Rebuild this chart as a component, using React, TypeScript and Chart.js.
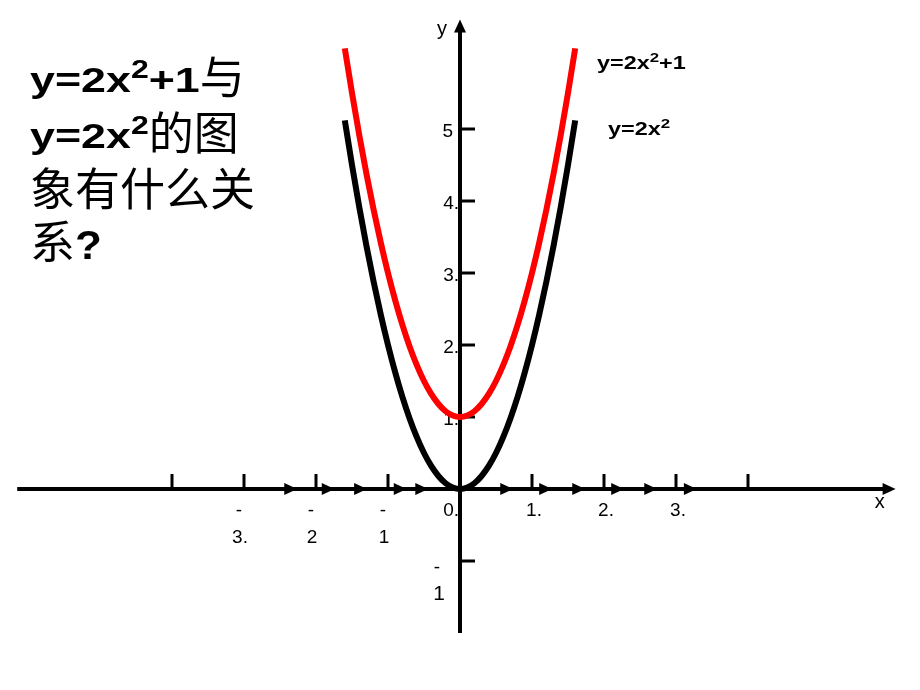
import React, { useEffect, useRef } from "react";
import Chart from "chart.js/auto";

// Curve samples (x in axis units)
const xValues = [-1.6, -1.5, -1.4, -1.3, -1.2, -1.1, -1.0, -0.9, -0.8, -0.7, -0.6, -0.5, -0.4, -0.3, -0.2, -0.1, 0, 0.1, 0.2, 0.3, 0.4, 0.5, 0.6, 0.7, 0.8, 0.9, 1.0, 1.1, 1.2, 1.3, 1.4, 1.5, 1.6];
const blackValues = [5.12, 4.5, 3.92, 3.38, 2.88, 2.42, 2.0, 1.62, 1.28, 0.98, 0.72, 0.5, 0.32, 0.18, 0.08, 0.02, 0, 0.02, 0.08, 0.18, 0.32, 0.5, 0.72, 0.98, 1.28, 1.62, 2.0, 2.42, 2.88, 3.38, 3.92, 4.5, 5.12];
const redValues = [6.12, 5.5, 4.92, 4.38, 3.88, 3.42, 3.0, 2.62, 2.28, 1.98, 1.72, 1.5, 1.32, 1.18, 1.08, 1.02, 1, 1.02, 1.08, 1.18, 1.32, 1.5, 1.72, 1.98, 2.28, 2.62, 3.0, 3.42, 3.88, 4.38, 4.92, 5.5, 6.12];

// Axis ticks and labels
const xTicks = [-4, -3, -2, -1, 1, 2, 3, 4];
const negLabelValues = [-3, -2, -1];
const negLabelTexts = ["3.", "2", "1"];
const posLabelValues = [0, 1, 2, 3];
const posLabelTexts = ["0.", "1.", "2.", "3."];
const yTicks = [-1, 1, 2, 3, 4, 5];
const yLabelValues = [1, 2, 3, 4, 5];
const yLabelTexts = ["1.", "2.", "3.", "4.", "5"];
const arrowMarks = [-2.26, -1.74, -1.29, -0.74, -0.44, 0.74, 1.28, 1.74, 2.28, 2.74, 3.29];

const seriesNames = ["y=2x²+1", "y=2x²"];
const titleLines = ["y=2x²+1与", "y=2x²的图", "象有什么关", "系？"];

const LATIN = "'Liberation Sans', Arial, sans-serif";
const CJK = "'Noto Sans CJK SC', sans-serif";

type Seg = { t: string; font: string; sx: number; dy: number };

function drawRun(ctx: CanvasRenderingContext2D, x: number, y: number, segs: Seg[]) {
  let cx = x;
  for (const s of segs) {
    ctx.save();
    ctx.font = s.font;
    ctx.textAlign = "left";
    ctx.textBaseline = "alphabetic";
    ctx.translate(cx, y + s.dy);
    ctx.scale(s.sx, 1);
    ctx.fillText(s.t, 0, 0);
    const w = ctx.measureText(s.t).width * s.sx;
    ctx.restore();
    cx += w;
  }
}

const axesPlugin = {
  id: "handAxes",
  beforeDatasetsDraw(chart: any) {
    const ctx: CanvasRenderingContext2D = chart.ctx;
    const xs = chart.scales.x;
    const ys = chart.scales.y;
    const px = (v: number) => xs.getPixelForValue(v);
    const py = (v: number) => ys.getPixelForValue(v);
    const x0 = px(0);
    const y0 = py(0);
    ctx.save();
    ctx.fillStyle = "#000";
    ctx.strokeStyle = "#000";

    // x axis
    const xStart = px(-6.15);
    const xTip = px(6.05);
    ctx.lineWidth = 4;
    ctx.beginPath();
    ctx.moveTo(xStart, y0);
    ctx.lineTo(xTip - 10, y0);
    ctx.stroke();
    ctx.beginPath();
    ctx.moveTo(xTip, y0);
    ctx.lineTo(xTip - 13, y0 - 6);
    ctx.lineTo(xTip - 13, y0 + 6);
    ctx.closePath();
    ctx.fill();

    // y axis
    const yBottom = py(-2);
    const yTip = py(6.52);
    ctx.beginPath();
    ctx.moveTo(x0, yBottom);
    ctx.lineTo(x0, yTip + 10);
    ctx.stroke();
    ctx.beginPath();
    ctx.moveTo(x0, yTip);
    ctx.lineTo(x0 - 6, yTip + 13);
    ctx.lineTo(x0 + 6, yTip + 13);
    ctx.closePath();
    ctx.fill();

    // small arrows along x axis
    for (const v of arrowMarks) {
      const t = px(v);
      ctx.beginPath();
      ctx.moveTo(t, y0);
      ctx.lineTo(t - 13, y0 - 6);
      ctx.lineTo(t - 13, y0 + 6);
      ctx.closePath();
      ctx.fill();
    }

    // ticks
    ctx.lineWidth = 3;
    for (const v of xTicks) {
      const t = px(v);
      ctx.beginPath();
      ctx.moveTo(t, y0);
      ctx.lineTo(t, y0 - 15);
      ctx.stroke();
    }
    for (const v of yTicks) {
      const t = py(v);
      ctx.beginPath();
      ctx.moveTo(x0, t);
      ctx.lineTo(x0 + 15, t);
      ctx.stroke();
    }

    // tick labels
    ctx.font = `19px ${LATIN}`;
    ctx.textBaseline = "alphabetic";
    negLabelValues.forEach((v, i) => {
      const t = px(v) - 4;
      ctx.textAlign = "center";
      ctx.fillText("-", t - 1, y0 + 27);
      ctx.fillText(negLabelTexts[i], t, y0 + 54);
    });
    posLabelValues.forEach((v, i) => {
      const t = px(v);
      if (v === 0) {
        ctx.textAlign = "right";
        ctx.fillText(posLabelTexts[i], t - 1, y0 + 27);
      } else {
        ctx.textAlign = "center";
        ctx.fillText(posLabelTexts[i], t + 2, y0 + 27);
      }
    });
    yLabelValues.forEach((v, i) => {
      const t = py(v);
      ctx.textAlign = "right";
      const txt = yLabelTexts[i];
      ctx.fillText(txt, txt.endsWith(".") ? x0 - 1 : x0 - 7, t + 8);
    });
    // -1 on y axis
    ctx.textAlign = "center";
    ctx.fillText("-", x0 - 23, py(-1) + 12);
    ctx.font = `21px ${LATIN}`;
    ctx.fillText("1", x0 - 21, py(-1) + 39);

    // axis names
    ctx.font = `20px ${LATIN}`;
    ctx.fillText("y", x0 - 18, yTip + 15);
    ctx.fillText("x", px(5.83), y0 + 19);
    ctx.restore();
  },
  afterDraw(chart: any) {
    const ctx: CanvasRenderingContext2D = chart.ctx;
    ctx.save();
    ctx.fillStyle = "#000";
    const B = (n: number) => `bold ${n}px ${LATIN}`;
    const C = `45px ${CJK}`;
    const sx = 1.28;
    // title
    drawRun(ctx, 30, 92, [
      { t: "y=2x", font: B(35), sx, dy: 0 },
      { t: "2", font: B(25), sx, dy: -14 },
      { t: "+1", font: B(35), sx, dy: 0 },
      { t: titleLines[0].slice(-1), font: C, sx: 1, dy: 2 },
    ]);
    drawRun(ctx, 30, 148, [
      { t: "y=2x", font: B(35), sx, dy: 0 },
      { t: "2", font: B(25), sx, dy: -14 },
      { t: titleLines[1].slice(-2), font: C, sx: 1, dy: 2 },
    ]);
    drawRun(ctx, 30, 206, [{ t: titleLines[2], font: C, sx: 1, dy: 0 }]);
    drawRun(ctx, 30, 259, [
      { t: titleLines[3].slice(0, 1), font: C, sx: 1, dy: 0 },
      { t: "?", font: B(40), sx: 1.1, dy: 0 },
    ]);

    // series labels
    const ls = 1.3;
    drawRun(ctx, 597, 69, [
      { t: "y=2x", font: B(18), sx: ls, dy: 0 },
      { t: "2", font: B(13), sx: ls, dy: -7 },
      { t: "+1", font: B(18), sx: ls, dy: 0 },
    ]);
    drawRun(ctx, 608, 135, [
      { t: "y=2x", font: B(18), sx: ls, dy: 0 },
      { t: "2", font: B(13), sx: ls, dy: -7 },
    ]);
    ctx.restore();
  },
};

export default function App() {
  const ref = useRef<HTMLCanvasElement | null>(null);
  useEffect(() => {
    if (!ref.current) return;
    const chart = new Chart(ref.current, {
      type: "scatter",
      data: {
        datasets: [
          {
            label: seriesNames[0],
            data: xValues.map((x, i) => ({ x, y: redValues[i] })),
            showLine: true,
            borderColor: "#ff0000",
            borderWidth: 6,
            pointRadius: 0,
            cubicInterpolationMode: "monotone",
            borderCapStyle: "butt",
          },
          {
            label: seriesNames[1],
            data: xValues.map((x, i) => ({ x, y: blackValues[i] })),
            showLine: true,
            borderColor: "#000000",
            borderWidth: 6,
            pointRadius: 0,
            cubicInterpolationMode: "monotone",
            borderCapStyle: "butt",
          },
        ],
      },
      options: {
        animation: false,
        responsive: false,
        devicePixelRatio: 1,
        layout: { padding: { left: 28, right: 28, top: 21, bottom: 57 } },
        scales: {
          x: { type: "linear", min: -6, max: 6, display: false },
          y: { type: "linear", min: -2, max: 6.5, display: false },
        },
        plugins: {
          legend: { display: false },
          tooltip: { enabled: false },
        },
      },
      plugins: [axesPlugin],
    } as any);
    return () => chart.destroy();
  }, []);
  return (
    <div style={{ position: "fixed", left: 0, top: 0, width: 920, height: 690, background: "#fff" }}>
      <canvas ref={ref} width={920} height={690} />
    </div>
  );
}
